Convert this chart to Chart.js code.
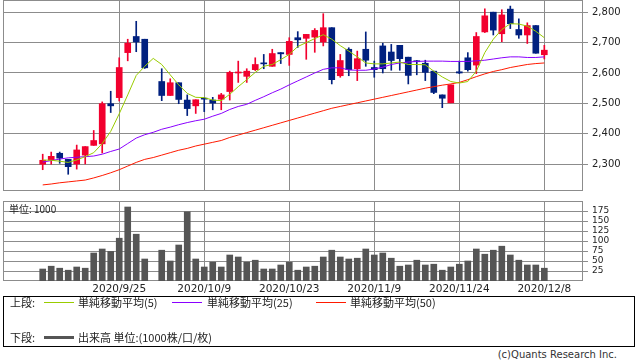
<!DOCTYPE html>
<html><head><meta charset="utf-8">
<script src="https://cdn.jsdelivr.net/npm/chart.js@4"></script>
<style>
html,body{margin:0;padding:0;background:#fff;}
body{width:638px;height:362px;position:relative;overflow:hidden;font-family:'DejaVu Sans',sans-serif;color:#222;}
canvas{position:absolute;left:0;}
#c1{top:0;}
#c2{top:196px;}
#unit{position:absolute;left:9px;top:203px;font:10px 'Noto Sans CJK JP','DejaVu Sans',sans-serif;line-height:12px;color:#222;}
#legend{position:absolute;left:3px;top:296px;width:632px;height:51px;border:1px solid #000;box-sizing:border-box;font:11px 'Noto Sans CJK JP',sans-serif;color:#222;}
#legend span{position:absolute;white-space:nowrap;line-height:14px;}
#legend i{position:absolute;display:block;}
#copy{position:absolute;right:21px;top:349px;font:10px 'DejaVu Sans',sans-serif;color:#333;white-space:nowrap;line-height:12px;}
</style></head>
<body>
<canvas id="c1" width="638" height="191"></canvas>
<canvas id="c2" width="638" height="100"></canvas>
<div id="unit"></div>
<div id="legend"></div>
<div id="copy">(c)Quants Research Inc.</div>
<script>
// ---- data ----
const dates = ['2020/9/10','2020/9/11','2020/9/14','2020/9/15','2020/9/16','2020/9/17','2020/9/18','2020/9/23','2020/9/24','2020/9/25',
 '2020/9/28','2020/9/29','2020/9/30','2020/10/1','2020/10/2','2020/10/5','2020/10/6','2020/10/7','2020/10/8','2020/10/9',
 '2020/10/12','2020/10/13','2020/10/14','2020/10/15','2020/10/16','2020/10/19','2020/10/20','2020/10/21','2020/10/22','2020/10/23',
 '2020/10/26','2020/10/27','2020/10/28','2020/10/29','2020/10/30','2020/11/2','2020/11/4','2020/11/5','2020/11/6','2020/11/9',
 '2020/11/10','2020/11/11','2020/11/12','2020/11/13','2020/11/16','2020/11/17','2020/11/18','2020/11/19','2020/11/20','2020/11/24',
 '2020/11/25','2020/11/26','2020/11/27','2020/11/30','2020/12/1','2020/12/2','2020/12/3','2020/12/4','2020/12/7','2020/12/8'];
const tickDates = ['2020/9/25','2020/10/9','2020/10/23','2020/11/9','2020/11/24','2020/12/8'];
const open  = [2300,2313,2336,2316,2301,2330,2362,2367,2499,2519, 2667,2720,2711,null,2572,2526,2568,2511,2492,2517,
 2511,2514,2539,2600,2589,2611,2632,2622,2667,2661, 2716,2714,2718,2702,2749,2591,2678,2614,2678,2618,
 2689,2669,2691,2652,2640,2632,2606,2528,2502,2604, 2650,2626,2735,2800,2729,2810,2743,2725,2756,2660];
const high  = [2333,2340,2340,2316,2363,2358,2411,2505,2540,2650, 2711,2770,2711,null,2614,2581,2568,2528,2512,2520,
 2520,2533,2606,2639,2614,2650,2661,2678,2667,2716, 2736,2727,2746,2795,2749,2661,2683,2672,2735,2639,
 2698,2694,2691,2652,2641,2642,2606,2528,2561,2639, 2667,2733,2811,2800,2808,2820,2778,2765,2756,2691];
const low   = [2282,2300,2303,2267,2284,2301,2362,2337,2470,2508, 2640,2670,2615,null,2509,2526,2499,2460,2467,2473,
 2479,2479,2511,2569,2569,2608,2614,2622,2631,2625, 2684,2645,2668,2689,2564,2586,2591,2575,2622,2586,
 2600,2609,2609,2564,2594,2575,2532,2486,2502,2598, 2606,2598,2733,2725,2703,2746,2714,2697,2665,2646];
const close = [2313,2326,2320,2292,2347,2358,2378,2499,2492,2618, 2698,2702,2617,null,2526,2568,2513,2483,2512,2514,
 2501,2528,2602,2603,2606,2628,2630,2664,2663,2704, 2709,2727,2740,2749,2578,2641,2611,2647,2642,2611,
 2614,2641,2647,2592,2637,2602,2536,2517,2561,2600, 2611,2720,2788,2741,2791,2762,2725,2756,2665,2675];
const ma5  = [2314,2313,2310,2306,2314,2325,2338,2368,2408,2466, 2528,2592,2622,2648,2628,2594,2561,2533,2520,2519,
 2511,2509,2530,2555,2578,2602,2622,2628,2644,2661, 2687,2700,2713,2726,2711,2690,2672,2653,2633,2630,
 2630,2633,2636,2628,2628,2627,2606,2587,2572,2567, 2572,2606,2667,2711,2743,2762,2761,2754,2737,2716];
const ma25 = [2307,2312,2317,2321,2323,2325,2327,2333,2342,2350, 2368,2386,2397,2405,2415,2422,2430,2437,2443,2448,
 2458,2467,2480,2490,2497,2510,2522,2535,2547,2561, 2574,2587,2600,2612,2617,2617,2610,2609,2609,2613,
 2619,2628,2633,2636,2638,2639,2639,2639,2638,2638, 2638,2640,2642,2646,2650,2653,2653,2651,2651,2653];
const ma50 = [2232,2235,2239,2242,2245,2248,2255,2263,2272,2282, 2294,2306,2316,2322,2330,2338,2346,2352,2360,2366,
 2372,2378,2388,2396,2404,2412,2420,2428,2436,2444, 2452,2460,2468,2476,2484,2490,2496,2502,2508,2514,
 2520,2526,2532,2538,2544,2550,2555,2560,2564,2569, 2578,2588,2597,2605,2611,2618,2623,2628,2631,2633];
const volume = [30,37,32,27,35,32,70,80,74,107, 185,117,55,null,77,50,90,173,55,35,
 47,35,65,60,47,52,30,30,40,47, 27,35,37,60,77,60,55,57,80,65,
 70,57,37,40,52,40,42,27,35,42, 50,80,67,77,87,65,52,40,40,32];
const priceTicks = [2300,2400,2500,2600,2700,2800];
const volTicks = [25,50,75,100,125,150,175];
const maNames = ['単純移動平均(5)','単純移動平均(25)','単純移動平均(50)'];
const volName = '出来高 単位:(1000株/口/枚)';
const unitLabel = '単位: 1000';

// ---- styles ----
const GRID = '#8c8c8c', UP = '#f2002e', DOWN = '#00207f', VOLC = '#555555';
const MA_COLORS = ['#99cc00', '#8a00ff', '#ff1a00'];
const XMIN = -4.67, XMAX = 63.55;
const tickIdx = tickDates.map(d => dates.indexOf(d));
const idx = dates.map((d, i) => i);
const valid = idx.filter(i => open[i] !== null);
const candleColor = valid.map(i => close[i] >= open[i] ? UP : DOWN);

const frame = { id: 'frame', beforeDatasetsDraw(c) {
  const { ctx, chartArea: a } = c; ctx.save(); ctx.strokeStyle = GRID; ctx.lineWidth = 1;
  ctx.strokeRect(Math.round(a.left) + 0.5, Math.round(a.top) + 0.5, Math.round(a.right - a.left) - 1, Math.round(a.bottom - a.top) - 1);
  ctx.restore(); } };

function xScale(showLabels) {
  return { type: 'linear', min: XMIN, max: XMAX, offset: false,
    afterBuildTicks: s => { s.ticks = tickIdx.map(v => ({ value: v })); },
    afterFit: s => { s.height = showLabels ? 15 : 0; s.paddingLeft = 0; s.paddingRight = 0; },
    grid: { color: GRID, lineWidth: 1, drawTicks: false, offset: false },
    border: { display: false },
    ticks: { display: showLabels, padding: 2, maxRotation: 0, autoSkip: false, color: '#222',
      font: { family: 'DejaVu Sans', size: 10.5 }, callback: v => dates[v] } };
}
function yScale(min, max, ticks, fmt, fontSize) {
  return { position: 'right', min, max,
    afterBuildTicks: s => { s.ticks = ticks.map(v => ({ value: v })); },
    afterFit: s => { s.width = 55; s.paddingTop = 0; s.paddingBottom = 0; },
    grid: { color: GRID, lineWidth: 1, drawTicks: true, tickLength: 5 },
    border: { display: false },
    ticks: { padding: 4, autoSkip: false, color: '#222', font: { family: 'DejaVu Sans', size: fontSize, lineHeight: 1 }, callback: fmt } };
}
const common = { responsive: false, animation: false, devicePixelRatio: 1,
  plugins: { legend: { display: false }, tooltip: { enabled: false } } };

const maSets = [ma5, ma25, ma50].map((arr, k) => ({ type: 'line', order: 0, data: idx.map(i => ({ x: i, y: arr[i] })),
  borderColor: MA_COLORS[k], borderWidth: 1, pointRadius: 0, tension: 0, fill: false }));

new Chart(document.getElementById('c1'), {
  type: 'bar',
  data: { datasets: [
    ...maSets,
    { type: 'bar', order: 2, grouped: false, barThickness: 1, data: valid.map(i => ({ x: i, y: [low[i], high[i]] })),
      backgroundColor: candleColor, borderWidth: 0 },
    { type: 'bar', order: 1, grouped: false, barThickness: 6, minBarLength: 1, data: valid.map(i => ({ x: i, y: [open[i], close[i]] })),
      backgroundColor: candleColor, borderWidth: 0 }
  ] },
  options: { ...common, layout: { padding: { left: 3, top: 0, right: 0, bottom: 0 } },
    scales: { x: xScale(false), y: yScale(2212, 2840, priceTicks, v => v.toLocaleString('en-US'), 10) } },
  plugins: [frame]
});

const volValid = idx.filter(i => volume[i] !== null);
new Chart(document.getElementById('c2'), {
  type: 'bar',
  data: { datasets: [
    { type: 'bar', grouped: false, barThickness: 6, data: volValid.map(i => ({ x: i, y: volume[i] })), backgroundColor: VOLC, borderWidth: 0 }
  ] },
  options: { ...common, layout: { padding: { left: 3, top: 5, right: 0, bottom: 0 } },
    scales: { x: xScale(true), y: yScale(0, 200, volTicks, v => String(v), 9) } },
  plugins: [frame]
});

// ---- legend ----
document.getElementById('unit').textContent = unitLabel;
const L = document.getElementById('legend');
function add(html) { L.insertAdjacentHTML('beforeend', html); }
const r1 = -2, r2 = 33;
add(`<span style="left:6px;top:${r1}px">上段:</span>`);
const lineX = [40, 168, 312], textX = [74, 203, 346];
maNames.forEach((n, k) => {
  add(`<i style="left:${lineX[k]}px;top:${r1 + 7}px;width:30px;height:1px;background:${MA_COLORS[k]}"></i>`);
  add(`<span style="left:${textX[k]}px;top:${r1}px">${n}</span>`);
});
add(`<span style="left:6px;top:${r2}px">下段:</span>`);
add(`<i style="left:40px;top:${r2 + 6}px;width:30px;height:3px;background:${VOLC}"></i>`);
add(`<span style="left:74px;top:${r2}px">${volName}</span>`);
</script>
</body></html>
